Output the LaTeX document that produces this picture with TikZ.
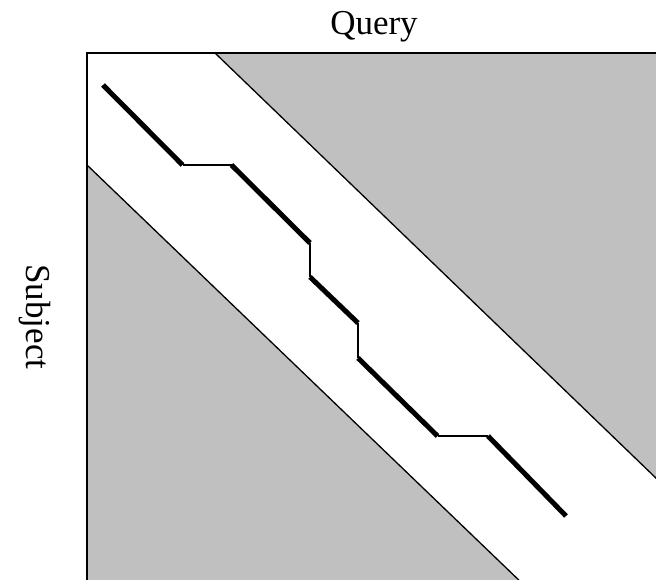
\documentclass[tikz,border=0pt]{standalone}
\usepackage{fontspec}
\setmainfont{Liberation Serif}
\definecolor{bandgray}{RGB}{192,192,192}
\tikzset{
  diagonal/.style={line width=1.3pt},
  hit/.style={line width=5pt},
  gap/.style={line width=1.8pt},
  axislabel/.style={font=\fontsize{35}{40}\selectfont, inner sep=0pt}
}
\begin{document}
\begin{tikzpicture}[x=1pt,y=-1pt]
  \useasboundingbox (0,0) rectangle (656,580);
  \begin{scope}
    \clip (0,0) rectangle (656,580);
    % shaded regions outside the band
    \fill[bandgray] (215,53) -- (720,53) -- (720,539.8) -- cycle;
    \fill[bandgray] (87,165) -- (87,720) -- (664.4,720) -- cycle;
    \draw[diagonal] (215,53) -- (720,539.8);
    \draw[diagonal] (87,165) -- (664.4,720);
    % frame
    \draw[line width=2.2pt] (87,53) rectangle (720,720);
  \end{scope}
  % alignment path
  \coordinate (p0) at (103,85);
  \coordinate (p1) at (182.5,165);
  \coordinate (p2) at (231.5,165);
  \coordinate (p3) at (310,243);
  \coordinate (p4) at (310,277);
  \coordinate (p5) at (358,323);
  \coordinate (p6) at (358,358);
  \coordinate (p7) at (437.5,436);
  \coordinate (p8) at (488,436);
  \coordinate (p9) at (566,516);
  \draw[gap] (p1) -- (p2);
  \draw[gap] (p3) -- (p4);
  \draw[gap] (p5) -- (p6);
  \draw[gap] (p7) -- (p8);
  \draw[hit] (p0) -- (p1);
  \draw[hit] (p2) -- (p3);
  \draw[hit] (p4) -- (p5);
  \draw[hit] (p6) -- (p7);
  \draw[hit] (p8) -- (p9);
  % axis labels
  \node[axislabel, anchor=base] (query) at (374,35) {Query};
  \node[axislabel, rotate=-90, anchor=base] (subject) at (27,317) {Subject};
\end{tikzpicture}
\end{document}
